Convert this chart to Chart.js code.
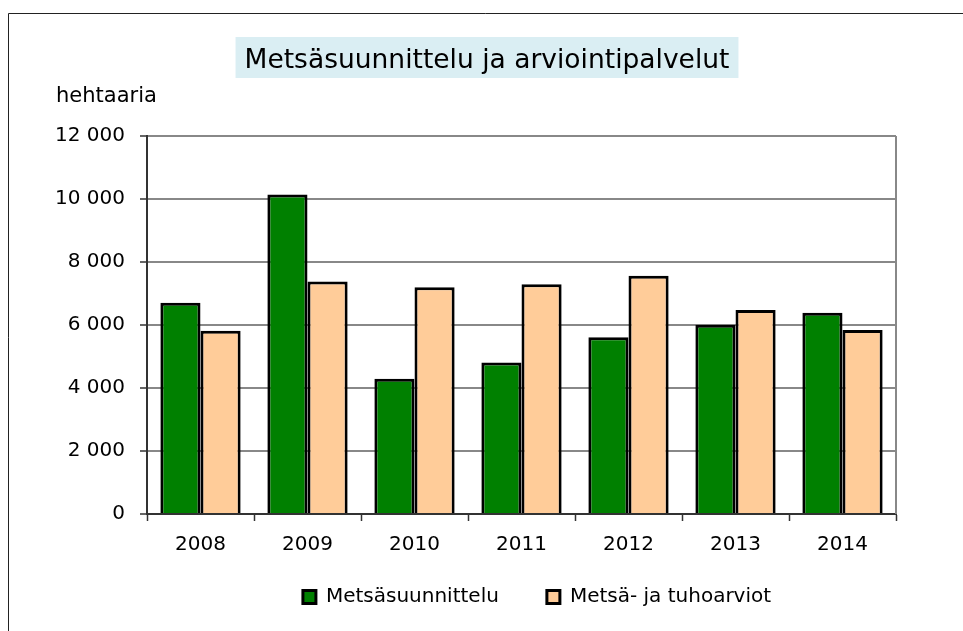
<!DOCTYPE html>
<html>
<head>
<meta charset="utf-8">
<script src="https://cdn.jsdelivr.net/npm/chart.js@4/dist/chart.umd.min.js"></script>
<style>
    html, body { margin: 0; padding: 0; background: #fff; overflow: hidden; }
    #wrap { position: absolute; left: 0; top: 0; width: 963px; height: 660px; }
</style>
</head>
<body>
<div id="wrap"><canvas id="chart"></canvas></div>
<script>
const YEARS = ["2008", "2009", "2010", "2011", "2012", "2013", "2014"];
const METSASUUNNITTELU = [6710, 10140, 4290, 4810, 5610, 6010, 6390];
const TUHOARVIOT = [5820, 7380, 7200, 7290, 7560, 6480, 5840];
const SERIES_NAMES = ["Metsäsuunnittelu", "Metsä- ja tuhoarviot"];
const CHART_TITLE = "Metsäsuunnittelu ja arviointipalvelut";
const Y_LABEL = "hehtaaria";
const Y_MAX = 12000;
const Y_STEP = 2000;

const FONT_FAMILY = "'DejaVu Sans', Verdana, sans-serif";
const LEGEND_PADDING = 48;
const LEGEND_CENTER = { x: 537, y: 597 };

function formatThousands(value) {

    return String(value).replace(/\B(?=(\d{3})+(?!\d))/g, " ");
}

// frame, title box, axis caption and plot border
const decorPlugin = {
    id: "decor",
    afterLayout(chart) {

        // legend sits off-centre in the original, move its box there
        const legend = chart.legend;

        if (!legend) {
            return;
        }

        const dx = LEGEND_CENTER.x - (legend.left + legend.right) / 2;
        const dy = LEGEND_CENTER.y - (legend.top + LEGEND_PADDING + 10);

        legend.left += dx;
        legend.right += dx;
        legend.top += dy;
        legend.bottom += dy;
    },
    beforeDraw(chart) {

        const ctx = chart.ctx;

        ctx.save();
        ctx.strokeStyle = "#222";
        ctx.lineWidth = 1;
        ctx.beginPath();
        ctx.moveTo(8.5, 700);
        ctx.lineTo(8.5, 13.5);
        ctx.lineTo(963, 13.5);
        ctx.stroke();

        ctx.font = "26.5px " + FONT_FAMILY;
        const textWidth = ctx.measureText(CHART_TITLE).width;
        const centerX = 487;
        ctx.fillStyle = "#daeef3";
        ctx.fillRect(centerX - textWidth / 2 - 9, 37, textWidth + 18, 41);
        ctx.fillStyle = "#000";
        ctx.textAlign = "center";
        ctx.textBaseline = "alphabetic";
        ctx.fillText(CHART_TITLE, centerX, 68);

        ctx.font = "21px " + FONT_FAMILY;
        ctx.textAlign = "left";
        ctx.fillText(Y_LABEL, 56, 102);
        ctx.restore();
    },
    afterDatasetsDraw(chart) {

        const ctx = chart.ctx;
        const area = chart.chartArea;

        ctx.save();
        ctx.strokeStyle = "#888";
        ctx.lineWidth = 2;
        ctx.beginPath();
        ctx.moveTo(area.right, area.top);
        ctx.lineTo(area.right, area.bottom);
        ctx.stroke();
        ctx.restore();
    }
};

const chartConfig = {
    type: "bar",
    data: {
        labels: YEARS,
        datasets: [
            {
                label: SERIES_NAMES[0],
                data: METSASUUNNITTELU,
                backgroundColor: "#008000",
                borderColor: "#000",
                borderWidth: 3
            },
            {
                label: SERIES_NAMES[1],
                data: TUHOARVIOT,
                backgroundColor: "#ffcc99",
                borderColor: "#000",
                borderWidth: 3
            }
        ]
    },
    options: {
        responsive: true,
        maintainAspectRatio: false,
        animation: false,
        events: [],
        datasets: {
            bar: {
                categoryPercentage: 0.75,
                barPercentage: 1.0
            }
        },
        layout: {
            padding: { left: 0, top: 136, right: 67, bottom: 23 }
        },
        plugins: {
            title: { display: false },
            tooltip: { enabled: false },
            legend: {
                position: "bottom",
                labels: {
                    boxWidth: 13,
                    boxHeight: 13,
                    padding: LEGEND_PADDING,
                    color: "#000",
                    font: { family: FONT_FAMILY, size: 20 }
                }
            }
        },
        scales: {
            x: {
                afterFit(scale) {
                    scale.height = 45;
                },
                grid: {
                    display: true,
                    drawOnChartArea: false,
                    drawTicks: true,
                    tickLength: 7,
                    tickColor: "#333",
                    tickWidth: 1.5,
                    offset: true
                },
                border: { display: true, color: "#333", width: 2 },
                ticks: {
                    color: "#000",
                    padding: 12,
                    font: { family: FONT_FAMILY, size: 20 }
                }
            },
            y: {
                min: 0,
                max: Y_MAX,
                afterFit(scale) {
                    scale.width = 147;
                },
                grid: {
                    color: "#888",
                    lineWidth: 2,
                    tickLength: 7,
                    tickColor: "#333",
                    tickWidth: 1.5
                },
                border: { display: true, color: "#333", width: 2 },
                ticks: {
                    stepSize: Y_STEP,
                    color: "#000",
                    padding: 15,
                    font: { family: FONT_FAMILY, size: 20 },
                    callback: (value) => formatThousands(value)
                }
            }
        }
    },
    plugins: [decorPlugin]
};

new Chart(document.getElementById("chart").getContext("2d"), chartConfig);
</script>
</body>
</html>
